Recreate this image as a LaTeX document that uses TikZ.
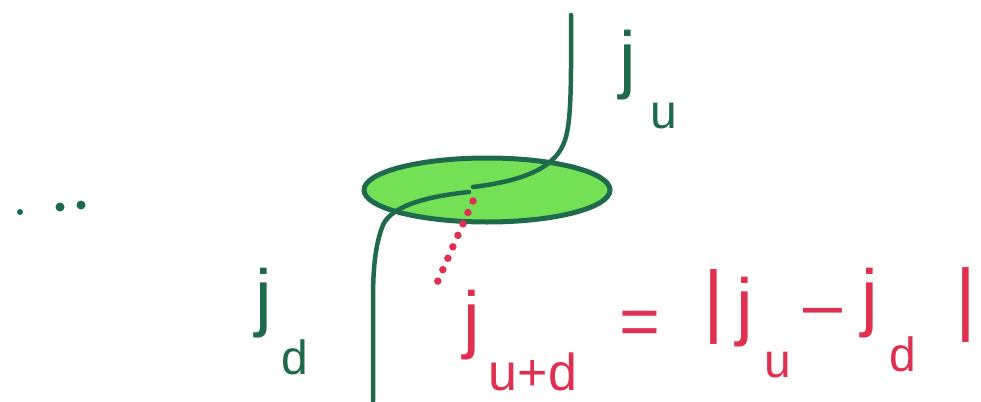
\documentclass[tikz,border=0pt]{standalone}
\usepackage{fontspec}
\usetikzlibrary{shapes.geometric}
\setmainfont{Liberation Sans}
\definecolor{dkgreen}{HTML}{1F6A4C}
\definecolor{hlgreen}{HTML}{74E055}
\definecolor{inkred}{HTML}{E0304F}
\begin{document}
\begin{tikzpicture}[x=1pt,y=-1pt,
  gtxt/.style={inner sep=0pt,text=dkgreen},
  rtxt/.style={inner sep=0pt,text=inkred},
  big/.style={font=\fontsize{75}{80}\selectfont},
  small/.style={font=\fontsize{48}{52}\selectfont},
  strand/.style={draw=dkgreen,line width=4.5pt,line cap=round}]
\useasboundingbox (0,0) rectangle (981,401);
\fill[white] (0,0) rectangle (981,401);
% dots
\fill[dkgreen] (20,212) circle (3);
\fill[dkgreen] (60,207) circle (4.5);
\fill[dkgreen] (81,205) circle (4.5);
% disc
\node[ellipse, draw=dkgreen, fill=hlgreen, line width=5pt, minimum width=246pt, minimum height=64pt, inner sep=0pt] (disc) at (487,190) {};
% strands
\coordinate (ut) at (571,15);
\coordinate (um) at (473,187);
\coordinate (lm) at (469,192);
\coordinate (lb) at (373,401);
\draw[strand] (ut) .. controls (571,70) and (572,120) .. (565,140) .. controls (557,165) and (530,180) .. (um);
\draw[strand] (lm) .. controls (430,196) and (392,205) .. (383,225) .. controls (375,245) and (373,270) .. (373,300) -- (lb);
% red dotted
\coordinate (ra) at (473,201);
\coordinate (rb) at (437,283);
\draw[inkred, line width=7.5pt, line cap=round, dash pattern=on 0pt off 12.5pt] (ra) -- (rb);
% labels
\node[gtxt,big] (ju) at (628,65) {j};
\node[gtxt,small] (jus) at (664,116) {u};
\node[gtxt,big] (jd) at (264,303) {j};
\node[gtxt,small] (jds) at (295,357) {d};
\node[rtxt,big] (jud) at (472,325) {j};
\node[rtxt,font=\fontsize{52}{56}\selectfont] (juds) at (533,372) {u+d};
\node[rtxt,font=\fontsize{70}{74}\selectfont] (eq) at (640,328) {=};
\node[rtxt,font=\fontsize{80}{84}\selectfont] (bar1) at (714,307) {|};
\node[rtxt,big] (j2) at (745,312) {j};
\node[rtxt,small] (j2s) at (778,365) {u};
\node[rtxt,font=\fontsize{70}{74}\selectfont] (minus) at (823,318) {–};
\node[rtxt,big] (j3) at (870,303) {j};
\node[rtxt,small] (j3s) at (903,354) {d};
\node[rtxt,font=\fontsize{80}{84}\selectfont] (bar2) at (966,305) {|};
\end{tikzpicture}
\end{document}
